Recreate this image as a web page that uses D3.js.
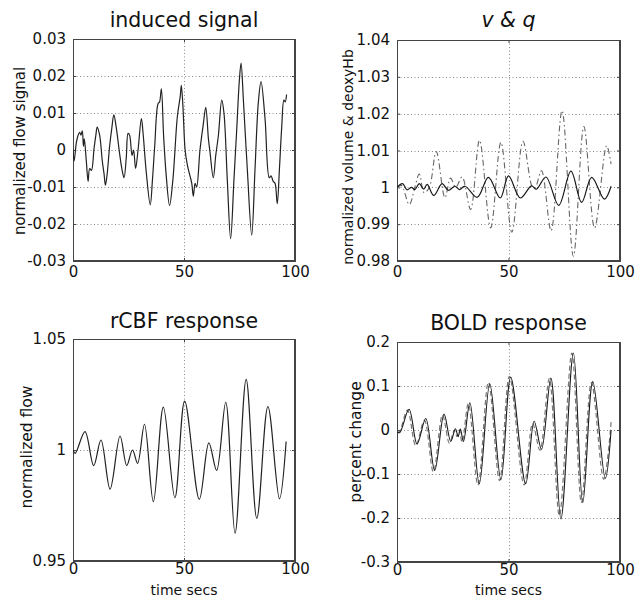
<!DOCTYPE html>
<html><head><meta charset="utf-8">
<script src="https://cdn.jsdelivr.net/npm/d3@7"></script>
<style>
html,body{margin:0;padding:0;background:#fff;}
svg{display:block;}
text{font-family:"DejaVu Sans",sans-serif;fill:#111;}
</style></head>
<body>
<svg id="c" width="643" height="597"></svg>
<script>
// ---------- DATA ----------
// induced signal (time in s, normalized flow signal)
const inducedTime = [0,0.5,1.5,2.3,3,3.6,4.2,4.7,5.1,6,6.8,7.5,8.3,9.5,10.3,10.9,12,13.2,14,14.6,15.3,16.5,17.5,18.4,19.5,21,22,23,24,24.8,25.5,26.6,27.3,28.2,29.3,30.8,31.5,33,34.8,35.8,36.8,38.3,39,39.8,40.8,42,43.5,45,47,48.3,48.8,49.5,50.5,51.5,52.7,53.5,54.2,55,55.7,57.2,58.7,59.8,61,61.7,63.2,64.3,65.5,67,68,69.5,71,72.5,73.7,74.9,75.7,76.8,78.5,80.5,82,83.5,84.7,86.5,88.4,89.2,90.2,91,92,93,94,95,95.6,96.2];
const inducedValue = [0,-0.003,0.002,0.004,0.0048,0.004,0.0052,0.001,0.003,-0.003,-0.0085,-0.005,-0.0055,0.0005,0.004,0.0062,0.004,-0.003,-0.0065,-0.0095,-0.007,0.001,0.006,0.0095,0.006,-0.001,-0.005,-0.0075,-0.002,0.0045,0.004,-0.0015,0,-0.005,0,0.0085,0.005,-0.006,-0.0148,-0.008,0.001,0.0125,0.013,0.0165,0.004,-0.007,-0.015,-0.008,0.009,0.0145,0.0175,0.012,0,-0.004,-0.007,-0.009,-0.0125,-0.009,-0.01,0,0.007,0.0115,0.003,-0.0005,-0.0075,-0.0015,0.004,0.0135,0.01,-0.008,-0.024,-0.008,0.005,0.0185,0.0235,0.013,-0.005,-0.023,-0.005,0.013,0.0185,0.0085,-0.0075,-0.007,-0.0085,-0.009,-0.0145,-0.005,0.006,0.0135,0.013,0.015];

// v (normalized volume, solid)
const vTime  = [0,2.5,4.5,6.5,8,10,12,13.5,16.5,20.2,23,26,28,30.5,36,41,46.3,50,55.3,60.3,62.5,66.8,72.5,78,82.8,87.3,93,96];
const vValue = [1.000,1.0010,0.9993,1.0000,0.9994,1.0010,0.9995,1.0008,0.9978,1.0010,0.9992,1.0003,0.9994,1.0003,0.9973,1.0027,0.9971,1.0031,0.9971,1.0004,0.9995,1.0028,0.9951,1.0044,0.9959,1.0027,0.9968,1.0003];
// q (deoxyHb, dash-dot)
const qTime  = [0,2,5.5,8,10,12.2,14.5,17.6,21.5,24,26.3,29.2,33,37,42,46.6,51.5,56.5,60.8,62,64.8,69.1,74,79.1,83.8,88.6,94,96];
const qValue = [1.000,1.0005,0.9953,1.0000,1.0036,0.9985,1.0000,1.0097,0.9972,1.0025,1.0000,1.0028,0.9940,1.0128,0.9890,1.0122,0.9878,1.0125,1.0000,1.0000,1.0045,0.9882,1.0208,0.9813,1.0165,0.9890,1.0113,1.0063];

// rCBF response
const cbfTime  = [0,1,5.4,9.3,12.6,16.7,21.2,24.2,26.8,29.1,32.2,36.2,40.7,45.9,50.3,56.9,61.2,64.7,68.8,73,78,82.8,87.8,93,96];
const cbfValue = [1.000,0.9985,1.0083,0.9930,1.0045,0.9824,1.0063,0.9930,1.0000,0.9940,1.0116,0.9767,1.0193,0.9785,1.0220,0.9778,1.0032,0.9908,1.0215,0.9625,1.0318,0.9692,1.0196,0.9780,1.0038];

// BOLD response (percent change): solid and dashed
const boldTime  = [0,1.2,5.4,9,12.9,16.9,21.1,24.1,26.2,27.4,28.4,29.8,32.7,36.9,41.6,46.6,51,57.7,61.5,64.8,69,73.5,79.1,83.3,87.8,93.4,96];
const boldValue = [-0.004,-0.006,0.047,-0.032,0.026,-0.092,0.036,-0.026,0.003,-0.015,0.002,-0.026,0.062,-0.122,0.105,-0.113,0.120,-0.122,0.020,-0.044,0.118,-0.202,0.175,-0.165,0.110,-0.110,0.000];
const bold2Time  = [0,1,4.7,8.4,12.3,16.3,20.4,23.5,25.7,26.9,27.9,29.2,32,36.3,41,46,50.4,57,60.8,64.1,68.3,72.8,78.4,82.7,87.2,92.7,96];
const bold2Value = [-0.004,-0.004,0.045,-0.035,0.022,-0.095,0.034,-0.030,0.000,-0.015,0.000,-0.028,0.060,-0.125,0.108,-0.115,0.122,-0.125,0.015,-0.046,0.117,-0.195,0.175,-0.165,0.108,-0.112,0.018];

// tick values / labels
const xTicks = [0,50,100];
const xTickLabels = ["0","50","100"];
const inducedTicks = [-0.03,-0.02,-0.01,0,0.01,0.02,0.03];
const inducedTickLabels = ["-0.03","-0.02","-0.01","0","0.01","0.02","0.03"];
const vqTicks = [0.98,0.99,1.0,1.01,1.02,1.03,1.04];
const vqTickLabels = ["0.98","0.99","1","1.01","1.02","1.03","1.04"];
const cbfTicks = [0.95,1.0,1.05];
const cbfTickLabels = ["0.95","1","1.05"];
const boldTicks = [-0.3,-0.2,-0.1,0,0.1,0.2];
const boldTickLabels = ["-0.3","-0.2","-0.1","0","0.1","0.2"];

// ---------- DRAW ----------
const svg = d3.select("#c");
svg.append("rect").attr("width",643).attr("height",597).attr("fill","#fff");

function zip(t,v){return t.map((d,i)=>[d,v[i]]);}

function panel(cfg){
  const [x0,y0,x1,y1] = cfg.box;
  const x = d3.scaleLinear().domain([0,100]).range([x0,x1]);
  const y = d3.scaleLinear().domain(cfg.ydom).range([y1,y0]);
  const g = svg.append("g");
  const id = "clip"+cfg.id;
  svg.append("clipPath").attr("id",id).append("rect")
    .attr("x",x0).attr("y",y0).attr("width",x1-x0).attr("height",y1-y0);

  // grid
  const grid = g.append("g").attr("stroke","#8a8a8a").attr("stroke-width",1).attr("stroke-dasharray","1,2.5");
  cfg.yticks.forEach(v=>{
    if (v===cfg.ydom[0]||v===cfg.ydom[1]) return;
    grid.append("line").attr("x1",x0).attr("x2",x1).attr("y1",Math.round(y(v))+0.5).attr("y2",Math.round(y(v))+0.5);
  });
  xTicks.slice(1,-1).forEach(v=>{
    grid.append("line").attr("y1",y0).attr("y2",y1).attr("x1",Math.round(x(v))+0.5).attr("x2",Math.round(x(v))+0.5);
  });

  // axes via d3 axis (ticks inside), labels outside
  const axL = d3.axisLeft(y).tickValues(cfg.yticks).tickSize(-3).tickPadding(7)
      .tickFormat((d,i)=>cfg.ytickLabels[i]);
  const axB = d3.axisBottom(x).tickValues(xTicks).tickSize(-3).tickPadding(cfg.xpad)
      .tickFormat((d,i)=>xTickLabels[i]);
  const gl = g.append("g").attr("transform",`translate(${x0},0)`).call(axL);
  const gb = g.append("g").attr("transform",`translate(0,${y1})`).call(axB);
  const gr = g.append("g").attr("transform",`translate(${x1},0)`).call(d3.axisRight(y).tickValues(cfg.yticks).tickSize(-3).tickFormat(""));
  const gt = g.append("g").attr("transform",`translate(0,${y0})`).call(d3.axisTop(x).tickValues(xTicks).tickSize(-3).tickFormat(""));
  [gl,gb,gr,gt].forEach(a=>{
    a.select(".domain").attr("stroke","#444");
    a.selectAll(".tick line").attr("stroke","#444");
    a.selectAll("text").attr("font-size","15px").attr("fill","#111")
      .attr("font-family","'DejaVu Sans',sans-serif");
  });

  // box
  g.append("rect").attr("x",x0+0.5).attr("y",y0+0.5).attr("width",x1-x0-1).attr("height",y1-y0-1)
    .attr("fill","none").attr("stroke","#444").attr("stroke-width",1);

  // series
  const line = d3.line().x(d=>x(d[0])).y(d=>y(d[1]));
  cfg.series.forEach(s=>{
    line.curve(s.curve||d3.curveLinear);
    g.append("path").datum(s.data).attr("d",line).attr("fill","none")
      .attr("stroke",s.color).attr("stroke-width",s.width||1.2)
      .attr("stroke-dasharray",s.dash||null).attr("clip-path",`url(#${id})`);
  });

  // title
  g.append("text").attr("x",(x0+x1)/2).attr("y",cfg.titleY).attr("text-anchor","middle")
    .attr("font-size","20.5px").attr("font-style",cfg.italic?"italic":"normal").text(cfg.title);
  // y label
  g.append("text").attr("transform",`translate(${cfg.ylabX},${cfg.ylabY}) rotate(-90)`)
    .attr("text-anchor","middle").attr("dy","0.35em").attr("font-size",cfg.ylabSize+"px").text(cfg.ylabel);
  if (cfg.xlabel){
    g.append("text").attr("x",(x0+x1)/2).attr("y",cfg.xlabY).attr("text-anchor","middle")
      .attr("font-size","14px").text(cfg.xlabel);
  }
}

panel({id:1, box:[73,39,295,261], ydom:[-0.03,0.03], yticks:inducedTicks, ytickLabels:inducedTickLabels, xpad:5,
  title:"induced signal", titleY:27, ylabel:"normalized flow signal", ylabX:20, ylabY:151, ylabSize:15,
  series:[{data:zip(inducedTime,inducedValue), color:"#222", width:1.2, curve:d3.curveCatmullRom}]});

panel({id:2, box:[397,40,620,261], ydom:[0.98,1.04], yticks:vqTicks, ytickLabels:vqTickLabels, xpad:5,
  title:"v & q", italic:true, titleY:27, ylabel:"normalized volume & deoxyHb", ylabX:348, ylabY:157, ylabSize:14,
  series:[{data:zip(qTime,qValue), color:"#666", width:1.1, dash:"6,3,1.5,3", curve:d3.curveCatmullRom},
          {data:zip(vTime,vValue), color:"#1a1a1a", width:1.2, curve:d3.curveCatmullRom}]});

panel({id:3, box:[73,339,295,561], ydom:[0.95,1.05], yticks:cbfTicks, ytickLabels:cbfTickLabels, xpad:2,
  title:"rCBF response", titleY:328, ylabel:"normalized flow", ylabX:27, ylabY:447, ylabSize:15.5,
  xlabel:"time secs", xlabY:595,
  series:[{data:zip(cbfTime,cbfValue), color:"#222", width:1.2, curve:d3.curveCatmullRom}]});

panel({id:4, box:[397,342,620,562], ydom:[-0.3,0.2], yticks:boldTicks, ytickLabels:boldTickLabels, xpad:2,
  title:"BOLD response", titleY:330, ylabel:"percent change", ylabX:356, ylabY:442, ylabSize:15.5,
  xlabel:"time secs", xlabY:595,
  series:[{data:zip(bold2Time,bold2Value), color:"#777", width:1.2, dash:"5,3", curve:d3.curveCatmullRom},
          {data:zip(boldTime,boldValue), color:"#1a1a1a", width:1.1, curve:d3.curveCatmullRom}]});
</script>
</body></html>
